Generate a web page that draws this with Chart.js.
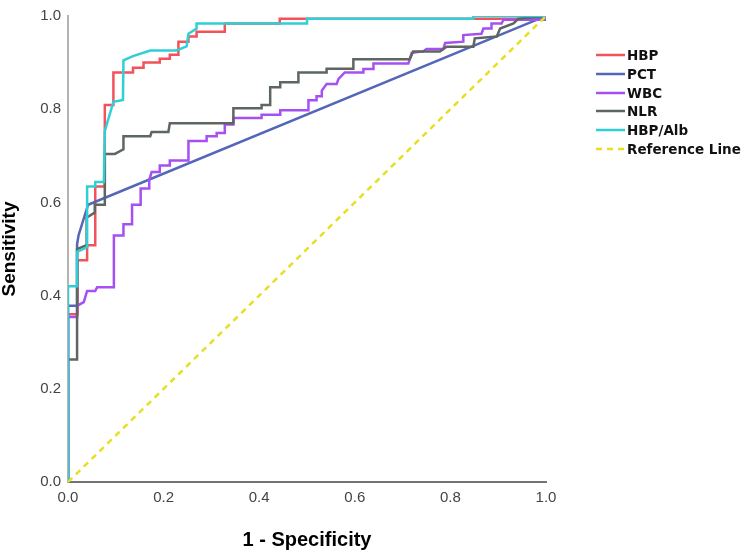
<!DOCTYPE html>
<html>
<head>
<meta charset="utf-8">
<script src="https://cdn.jsdelivr.net/npm/chart.js@4.4.1/dist/chart.umd.min.js"></script>
<style>
  html, body { margin: 0; padding: 0; background: #fff; }
  #wrap { position: relative; width: 744px; height: 552px; }
  #legend { position: absolute; left: 596px; top: 46px; font: bold 13.5px "DejaVu Sans", sans-serif; color: #111; }
  .item { display: flex; align-items: center; height: 18.7px; white-space: nowrap; }
  .item svg { margin-right: 2px; }
</style>
</head>
<body>
<div id="wrap">
  <canvas id="c" width="744" height="552"></canvas>
  <div id="legend"></div>
</div>
<script>
// ---- Data: [1 - Specificity, Sensitivity] vertices ----
const seriesNames = ['HBP', 'PCT', 'WBC', 'NLR', 'HBP/Alb', 'Reference Line'];

const HBP = [[0,0],[0,0.36],[0.02,0.36],[0.02,0.476],[0.04,0.476],[0.04,0.508],[0.057,0.508],[0.057,0.634],
  [0.077,0.634],[0.077,0.809],[0.095,0.809],[0.095,0.879],[0.136,0.879],[0.136,0.889],[0.158,0.889],[0.158,0.90],
  [0.192,0.90],[0.192,0.908],[0.213,0.908],[0.213,0.917],[0.231,0.917],[0.231,0.945],[0.252,0.945],[0.252,0.956],
  [0.269,0.956],[0.269,0.966],[0.328,0.966],[0.328,0.984],[0.443,0.984],[0.443,0.994],[0.98,0.994],[1,1]];

const PCT = [[0,0],[0,0.378],[0.019,0.378],[0.019,0.51],[0.022,0.529],[0.042,0.595],[1,1]];

const WBC = [[0,0],[0,0.354],[0.019,0.354],[0.019,0.378],[0.033,0.386],[0.04,0.41],[0.057,0.41],[0.061,0.418],
  [0.096,0.418],[0.096,0.529],[0.116,0.529],[0.116,0.553],[0.134,0.553],[0.134,0.595],[0.152,0.595],[0.152,0.63],
  [0.17,0.63],[0.17,0.648],[0.175,0.665],[0.192,0.665],[0.192,0.679],[0.213,0.679],[0.213,0.69],[0.252,0.69],
  [0.252,0.732],[0.29,0.732],[0.29,0.742],[0.311,0.742],[0.311,0.749],[0.328,0.749],[0.328,0.767],[0.346,0.767],
  [0.346,0.781],[0.405,0.781],[0.405,0.788],[0.444,0.788],[0.444,0.798],[0.503,0.798],[0.503,0.819],[0.52,0.819],
  [0.52,0.828],[0.531,0.828],[0.531,0.84],[0.541,0.854],[0.562,0.854],[0.566,0.865],[0.579,0.879],[0.618,0.879],
  [0.618,0.886],[0.639,0.886],[0.639,0.898],[0.712,0.898],[0.719,0.921],[0.743,0.924],[0.75,0.929],[0.785,0.929],
  [0.789,0.942],[0.827,0.945],[0.827,0.959],[0.865,0.962],[0.869,0.973],[0.886,0.973],[0.886,0.984],[0.907,0.984],
  [0.911,0.992],[1,0.992],[1,1]];

const NLR = [[0,0],[0,0.263],[0.019,0.263],[0.019,0.50],[0.039,0.508],[0.039,0.567],[0.056,0.578],[0.056,0.595],
  [0.077,0.595],[0.077,0.704],[0.098,0.704],[0.116,0.714],[0.116,0.742],[0.172,0.742],[0.175,0.751],[0.21,0.751],
  [0.213,0.77],[0.346,0.77],[0.346,0.802],[0.405,0.802],[0.405,0.809],[0.423,0.809],[0.423,0.847],[0.444,0.847],
  [0.444,0.858],[0.482,0.858],[0.482,0.879],[0.541,0.879],[0.541,0.887],[0.597,0.887],[0.597,0.907],[0.715,0.907],
  [0.722,0.924],[0.778,0.924],[0.792,0.934],[0.848,0.934],[0.851,0.952],[0.897,0.956],[0.904,0.973],[0.932,0.984],
  [0.942,0.994],[1,1]];

const HBP_ALB = [[0,0],[0,0.42],[0.019,0.42],[0.019,0.494],[0.04,0.504],[0.04,0.634],[0.057,0.634],[0.057,0.644],
  [0.075,0.644],[0.077,0.753],[0.095,0.816],[0.115,0.82],[0.116,0.905],[0.136,0.914],[0.172,0.926],[0.227,0.926],
  [0.248,0.935],[0.252,0.962],[0.269,0.973],[0.269,0.984],[0.5,0.984],[0.5,0.994],[0.848,0.994],[0.848,1],[1,1]];

const REFERENCE = [[0,0],[1,1]];

const tickValues = [0, 0.2, 0.4, 0.6, 0.8, 1.0];
const tickLabels = ['0.0', '0.2', '0.4', '0.6', '0.8', '1.0'];

// ---- Styles ----
const seriesData = [HBP, PCT, WBC, NLR, HBP_ALB, REFERENCE];
const colors = ['#f2525a', '#5366b8', '#a64ff2', '#5e6661', '#2fcfd6', '#e8de22'];
const dashes = [[], [], [], [], [], [6, 5]];

const datasets = seriesData.map((pts, i) => ({
  label: seriesNames[i],
  data: pts.map(p => ({ x: p[0], y: p[1] })),
  borderColor: colors[i],
  backgroundColor: colors[i],
  borderWidth: 2.5,
  borderDash: dashes[i],
  borderJoinStyle: 'miter',
  pointRadius: 0,
  pointHoverRadius: 0,
  tension: 0,
  fill: false,
  order: seriesData.length - i
}));

function fixedTicks(scale) {
  scale.ticks = tickValues.map(v => ({ value: v }));
}

new Chart(document.getElementById('c'), {
  type: 'line',
  data: { datasets },
  options: {
    responsive: false,
    animation: false,
    events: [],
    layout: { padding: { top: 5, right: 198, bottom: 0, left: 0 } },
    plugins: { legend: { display: false }, tooltip: { enabled: false } },
    scales: {
      x: {
        type: 'linear', min: 0, max: 1,
        afterBuildTicks: fixedTicks,
        afterFit: s => { s.height = 70; },
        grid: { display: false, drawTicks: false },
        border: { display: true, color: '#747474', width: 2 },
        ticks: {
          padding: 7, color: '#444',
          font: { family: 'Liberation Sans', size: 15 },
          callback: (v, i) => tickLabels[i]
        },
        title: {
          display: true, text: '1 - Specificity', color: '#000',
          font: { family: 'Liberation Sans', size: 20, weight: 'bold', lineHeight: 1.2 },
          padding: { top: 0, bottom: 0 }
        }
      },
      y: {
        type: 'linear', min: 0, max: 1,
        afterBuildTicks: fixedTicks,
        afterFit: s => { s.width = 68; },
        grid: { display: false, drawTicks: false },
        border: { display: true, color: '#b4b4b4', width: 2 },
        ticks: {
          padding: 7, color: '#444',
          font: { family: 'Liberation Sans', size: 15 },
          callback: (v, i) => tickLabels[i]
        },
        title: {
          display: true, text: 'Sensitivity', color: '#000',
          font: { family: 'Liberation Sans', size: 19, weight: 'bold', lineHeight: 1 },
          padding: { top: 0, bottom: 0 }
        }
      }
    }
  }
});

// ---- HTML legend built from the series names/colours ----
const legend = document.getElementById('legend');
seriesNames.forEach((name, i) => {
  const row = document.createElement('div');
  row.className = 'item';
  const dash = dashes[i].length ? ` stroke-dasharray="${dashes[i].join(' ')}"` : '';
  row.innerHTML = `<svg width="29" height="8"><line x1="0" y1="4" x2="29" y2="4" stroke="${colors[i]}" stroke-width="2.5"${dash}/></svg><span>${name}</span>`;
  legend.appendChild(row);
});
</script>
</body>
</html>
